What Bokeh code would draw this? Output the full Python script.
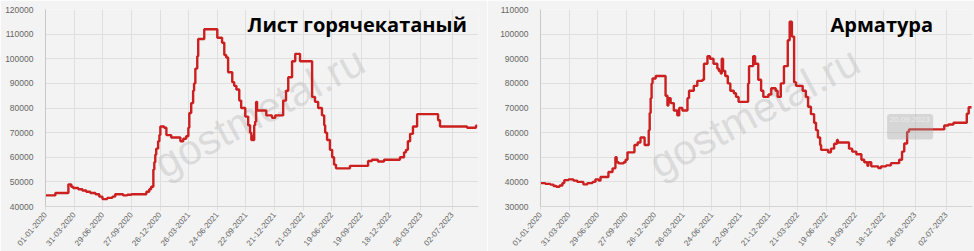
from datetime import datetime
import math
import pandas as pd
from bokeh.plotting import figure
from bokeh.layouts import row
from bokeh.models import (FixedTicker, DatetimeTickFormatter, Range1d, Label,
                          BoxAnnotation, ColumnDataSource, SingleIntervalTicker,
                          PrintfTickFormatter)
from bokeh.embed import file_html
from bokeh.resources import INLINE

# ---------------- data ----------------
tick_dates = ["2020-01-01", "2020-03-31", "2020-06-29", "2020-09-27", "2020-12-26",
              "2021-03-26", "2021-06-24", "2021-09-22", "2021-12-21", "2022-03-21",
              "2022-06-19", "2022-09-19", "2022-12-18", "2023-03-26", "2023-07-02"]

sheet_title = "Лист горячекатаный"
sheet_dates = ["2020-01-01", "2020-02-01", "2020-03-13", "2020-03-22", "2020-03-28", "2020-04-13",
               "2020-04-26", "2020-05-08", "2020-05-21", "2020-06-06", "2020-06-18", "2020-06-28",
               "2020-07-13", "2020-07-29", "2020-08-07", "2020-09-01", "2020-09-14", "2020-09-27",
               "2020-11-13", "2020-11-22", "2020-11-28", "2020-12-05", "2020-12-08", "2020-12-11",
               "2020-12-14", "2020-12-20", "2020-12-24", "2020-12-27", "2021-01-08", "2021-01-15",
               "2021-01-30", "2021-02-28", "2021-03-09", "2021-03-18", "2021-03-25", "2021-03-28",
               "2021-04-03", "2021-04-09", "2021-04-12", "2021-04-16", "2021-04-22", "2021-04-25",
               "2021-05-14", "2021-06-24", "2021-07-09", "2021-07-16", "2021-07-22", "2021-07-28",
               "2021-08-10", "2021-08-16", "2021-08-23", "2021-09-01", "2021-09-07", "2021-09-20",
               "2021-09-29", "2021-10-05", "2021-10-09", "2021-10-12", "2021-10-15", "2021-10-18",
               "2021-10-21", "2021-10-24", "2021-10-27", "2021-11-25", "2021-12-13", "2021-12-23",
               "2022-01-17", "2022-01-26", "2022-02-02", "2022-02-14", "2022-02-24", "2022-03-11",
               "2022-04-18", "2022-04-27", "2022-05-07", "2022-05-19", "2022-05-26", "2022-05-29",
               "2022-06-04", "2022-06-13", "2022-06-20", "2022-06-26", "2022-07-02", "2022-08-15",
               "2022-10-11", "2022-10-23", "2022-11-11", "2022-11-30", "2023-01-19", "2023-02-01",
               "2023-02-07", "2023-02-13", "2023-02-20", "2023-03-01", "2023-03-14", "2023-05-19",
               "2023-05-25", "2023-08-18", "2023-09-15", "2023-09-19"]
sheet_values = [44500, 45500, 49000, 48000, 47500, 47000,
                46500, 46000, 45500, 45000, 44000, 43000,
                43500, 44000, 45000, 44500, 44800, 45000,
                46000, 47000, 48000, 55000, 58000, 61000,
                63500, 66500, 69000, 72500, 72000, 69000,
                68000, 66500, 67500, 68500, 72000, 78000,
                82000, 87000, 90000, 96000, 101000, 108000,
                112000, 108500, 106500, 101500, 100500, 94500,
                90500, 89000, 87500, 83000, 80000, 76500,
                73000, 70000, 67000, 68500, 67000, 73000,
                74500, 82500, 79000, 77000, 76000, 77000,
                83000, 87000, 92500, 99000, 102000, 99000,
                84500, 82500, 80000, 77000, 73000, 70000,
                67000, 63000, 60000, 57000, 55500, 56500,
                58500, 59000, 58300, 59000, 60000, 62000,
                63000, 66500, 69500, 72500, 77500, 75000,
                72500, 72000, 72800, 72800]

rebar_title = "Арматура"
rebar_dates = ["2020-01-01", "2020-01-16", "2020-02-01", "2020-02-11", "2020-02-20", "2020-03-01",
               "2020-03-10", "2020-03-16", "2020-03-29", "2020-04-14", "2020-04-26", "2020-05-15",
               "2020-05-28", "2020-06-13", "2020-06-22", "2020-07-02", "2020-07-08", "2020-08-02",
               "2020-08-15", "2020-08-24", "2020-08-28", "2020-09-03", "2020-09-19", "2020-09-25",
               "2020-10-01", "2020-10-23", "2020-11-02", "2020-11-11", "2020-11-24", "2020-12-07",
               "2020-12-10", "2020-12-13", "2020-12-16", "2020-12-19", "2020-12-29", "2021-01-29",
               "2021-02-04", "2021-02-07", "2021-02-14", "2021-02-24", "2021-03-07", "2021-03-13",
               "2021-03-23", "2021-04-08", "2021-04-13", "2021-04-28", "2021-05-09", "2021-05-25",
               "2021-05-30", "2021-06-10", "2021-06-18", "2021-06-29", "2021-07-11", "2021-07-16",
               "2021-07-22", "2021-07-25", "2021-07-29", "2021-08-05", "2021-08-13", "2021-08-21",
               "2021-09-01", "2021-09-08", "2021-09-16", "2021-10-16", "2021-10-19", "2021-11-01",
               "2021-11-07", "2021-11-17", "2021-11-26", "2021-12-03", "2021-12-19", "2021-12-28",
               "2022-01-11", "2022-01-17", "2022-01-27", "2022-02-06", "2022-02-18", "2022-02-24",
               "2022-03-03", "2022-03-10", "2022-03-16", "2022-04-06", "2022-04-16", "2022-04-23",
               "2022-05-02", "2022-05-12", "2022-05-18", "2022-05-24", "2022-05-31", "2022-06-03",
               "2022-06-25", "2022-07-04", "2022-07-14", "2022-07-23", "2022-07-26", "2022-08-30",
               "2022-09-09", "2022-09-22", "2022-10-08", "2022-10-17", "2022-10-27", "2022-10-30",
               "2022-11-08", "2022-11-30", "2022-12-09", "2022-12-25", "2023-01-09", "2023-02-04",
               "2023-02-13", "2023-02-20", "2023-03-01", "2023-03-07", "2023-06-26", "2023-07-09",
               "2023-07-25", "2023-09-05", "2023-09-11", "2023-09-20"]
rebar_values = [39500, 39200, 38900, 38300, 38000, 38500,
                39500, 40700, 41000, 40500, 40000, 39000,
                39500, 40000, 41000, 40500, 42000, 44000,
                45500, 50000, 48000, 47500, 48000, 49000,
                52000, 55000, 56000, 58000, 55000, 61000,
                68000, 74000, 80000, 82000, 83000, 75000,
                71000, 74000, 72000, 69000, 67000, 70000,
                69000, 74000, 77000, 79000, 81000, 81500,
                88000, 91000, 90000, 88000, 86000, 85000,
                84000, 90000, 85000, 83000, 80000, 77000,
                76000, 74500, 72500, 80000, 87000, 91000,
                88000, 81500, 77000, 74500, 75500, 78000,
                77000, 74500, 80000, 87000, 97500, 105000,
                99000, 80500, 79000, 77000, 74500, 70500,
                67500, 64000, 61000, 58000, 55000, 53000,
                52000, 53500, 55500, 57000, 56000, 53500,
                52300, 51200, 49000, 48000, 46500, 48000,
                46300, 45600, 46300, 46700, 47600, 49000,
                52300, 55600, 60300, 61300, 62900, 63300,
                64000, 67700, 70300, 70300]

tooltip_date = "20.09.2023"
tooltip_box = dict(left="2022-12-28", right="2023-05-22", bottom=57200, top=67600)

y_axis_title = "Цена, руб. / тонна"
watermark = "gostmetal.ru"
X_START, X_END = "2020-01-01", "2023-09-23"

# ---------------- style ----------------
BG = "#f3f3f3"
LINE = "#cc1f1f"
GRID = "#dfdfdf"
TICK_COLOR = "#666666"
FONT = "Liberation Sans"


def ms(d):
    return pd.Timestamp(d).value / 1e6


def make_fig(dates, values, ymin, ymax, title, width, bl, br, title_x, ytitle_x):
    p = figure(width=width, height=251, x_axis_type="datetime",
               output_backend="svg", toolbar_location=None,
               x_range=Range1d(pd.Timestamp(X_START), pd.Timestamp(X_END)),
               y_range=Range1d(ymin, ymax),
               min_border_left=bl, min_border_right=br,
               min_border_top=9, min_border_bottom=41,
               background_fill_color=BG, border_fill_color=BG,
               outline_line_color=None)
    # watermark
    p.add_layout(Label(x=112, y=40, x_units="screen", y_units="screen",
                       text=watermark, angle=0.49, text_font=FONT,
                       text_font_size="42px", text_color="#bdbdbd",
                       text_alpha=0.45, text_align="left",
                       text_baseline="alphabetic", level="underlay"))

    src = ColumnDataSource(dict(date=pd.to_datetime(dates), value=values))
    p.step(x="date", y="value", source=src, mode="after",
           line_color=LINE, line_width=2.4)

    ticker = FixedTicker(ticks=[ms(d) for d in tick_dates])
    p.xaxis.ticker = ticker
    p.xgrid.ticker = ticker
    fmt = "%d-%m-%Y"
    p.xaxis.formatter = DatetimeTickFormatter(
        milliseconds=fmt, seconds=fmt, minsec=fmt, minutes=fmt, hourmin=fmt,
        hours=fmt, days=fmt, months=fmt, years=fmt)
    p.xaxis.major_label_orientation = 0.87
    p.xaxis.major_label_text_font = FONT
    p.xaxis.major_label_text_font_size = "8px"
    p.xaxis.major_label_text_color = TICK_COLOR
    p.xaxis.major_label_standoff = 3
    p.xaxis.axis_line_color = "#d4d4d4"
    p.xaxis.major_tick_line_color = GRID
    p.xaxis.major_tick_out = 4
    p.xaxis.major_tick_in = 0
    p.xaxis.minor_tick_line_color = None

    p.yaxis.ticker = SingleIntervalTicker(interval=10000)
    p.yaxis.formatter = PrintfTickFormatter(format="%d")
    p.yaxis.major_label_text_font = FONT
    p.yaxis.major_label_text_font_size = "8.5px"
    p.yaxis.major_label_text_color = TICK_COLOR
    p.yaxis.major_label_standoff = 6
    p.yaxis.axis_line_color = "#c8c8c8"
    p.yaxis.major_tick_line_color = None
    p.yaxis.minor_tick_line_color = None

    p.xgrid.grid_line_color = GRID
    p.ygrid.grid_line_color = GRID

    # rotated y-axis title
    p.add_layout(Label(x=ytitle_x, y=100, x_units="screen", y_units="screen",
                       text=y_axis_title, angle=math.pi / 2, text_font=FONT,
                       text_font_size="8.5px", text_color="#d44848",
                       text_align="center", text_baseline="middle"))
    # big title
    p.add_layout(Label(x=title_x, y=182, x_units="screen", y_units="screen",
                       text=title, text_font="Open Sans", text_font_style="bold",
                       text_font_size="20px", text_color="#000000",
                       text_align="left", text_baseline="alphabetic"))
    return p


p1 = make_fig(sheet_dates, sheet_values, 40000, 120000, sheet_title, 487, 45, 9, 202, -39)
p2 = make_fig(rebar_dates, rebar_values, 30000, 110000, rebar_title, 487, 53, 2, 290, -45)

# tooltip remnant on the rebar chart
p2.add_layout(BoxAnnotation(left=pd.Timestamp(tooltip_box["left"]),
                            right=pd.Timestamp(tooltip_box["right"]),
                            bottom=tooltip_box["bottom"], top=tooltip_box["top"],
                            fill_color="#a0a0a0", fill_alpha=0.35,
                            line_color=None, border_radius=3))
p2.add_layout(Label(x=pd.Timestamp("2023-01-05"), y=65200, text=tooltip_date,
                    text_font=FONT, text_font_size="8px", text_color="#ffffff",
                    text_alpha=0.55, text_align="left", text_baseline="middle"))

layout = row(p1, p2)
open("out.html", "w").write(file_html(layout, INLINE))
